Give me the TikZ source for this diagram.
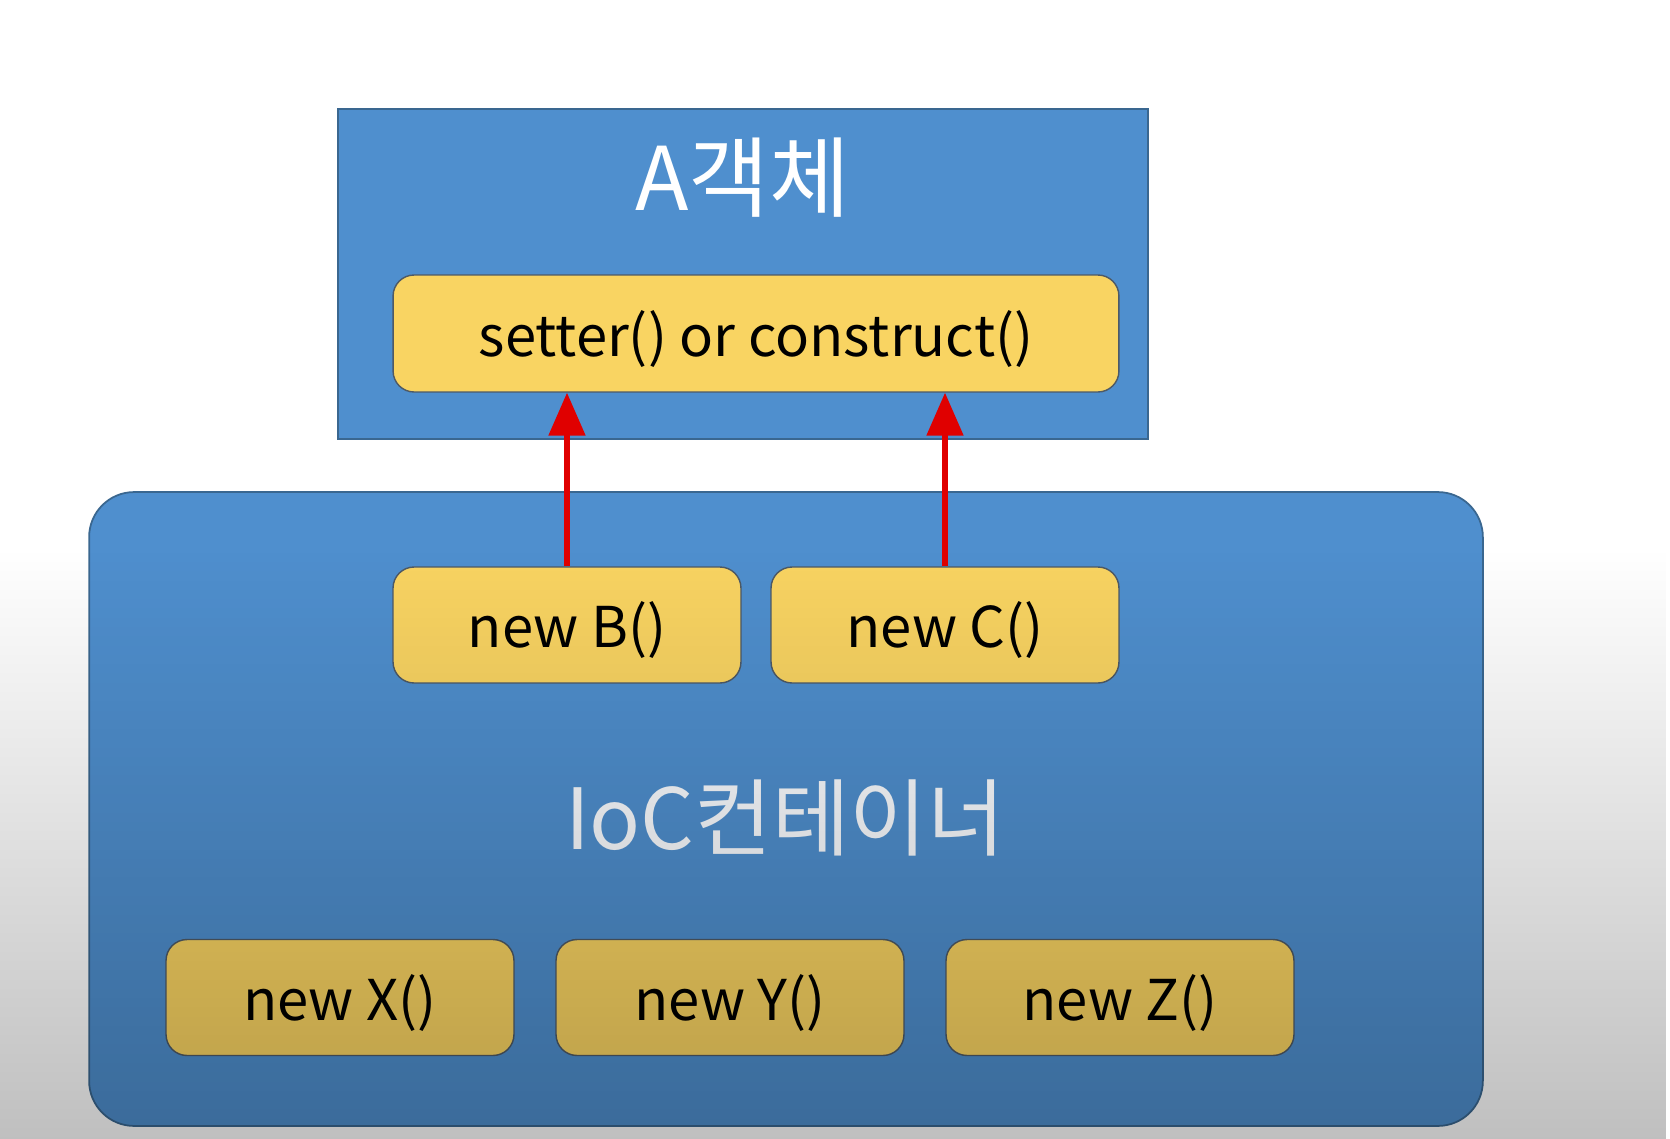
\documentclass[tikz,border=0pt]{standalone}
\usepackage{fontspec}
\setmainfont{Noto Sans CJK KR}
\usepackage{xcolor}
\usetikzlibrary{arrows.meta,fadings}

\definecolor{objblue}{HTML}{4F8FCE}
\definecolor{edgeblue}{HTML}{3A6790}
\definecolor{beanyellow}{HTML}{F9D462}
\definecolor{beanedge}{HTML}{4E5A66}
\definecolor{injectred}{HTML}{E00000}
\definecolor{iocgray}{HTML}{FAFCFF}

\begin{document}
\begin{tikzpicture}[x=0.02cm,y=-0.02cm,
  panel/.style={draw=edgeblue, line width=1pt, fill=objblue},
  bean/.style={draw=beanedge, line width=0.8pt, fill=beanyellow, rounded corners=0.42cm,
    minimum width=6.96cm, minimum height=2.32cm, inner sep=0pt,
    text height=0.9cm, text depth=0cm, font=\fontsize{32}{38}\selectfont},
  wire/.style={draw=injectred, line width=3pt, -{Triangle[width=0.72cm,length=0.86cm]}}]

% Canvas
\useasboundingbox (0,0) rectangle (1670,1139);
\fill[white] (0,0) rectangle (1670,1139);

% A object
\node[panel, minimum width=16.2cm, minimum height=6.6cm] (aobj) at (743,274) {};
\node[text=white, font=\fontsize{50}{58}\selectfont] (atitle) at (743,178) {A객체};
\node[bean, minimum width=14.52cm, minimum height=2.34cm] (inj) at (756,333.5) {setter() or construct()};

% IoC container
\node[panel, rounded corners=0.9cm, minimum width=27.88cm, minimum height=12.68cm] (ioc) at (786,809) {};
\node[text=iocgray, font=\fontsize{48}{56}\selectfont] (ioctitle) at (785,818) {IoC컨테이너};

% Beans
\node[bean] (nb) at (567,625) {new B()};
\node[bean] (nc) at (945,625) {new C()};
\node[bean] (nx) at (340,997.5) {new X()};
\node[bean] (ny) at (730,997.5) {new Y()};
\node[bean] (nz) at (1120,997.5) {new Z()};

% Injection
\draw[wire] (nb.north) -- (nb.north |- inj.south);
\draw[wire] (nc.north) -- (nc.north |- inj.south);

% Dark overlay at the bottom
\fill[black, opacity=0.25, path fading=north] (0,550) rectangle (1670,1139);

\end{tikzpicture}
\end{document}
